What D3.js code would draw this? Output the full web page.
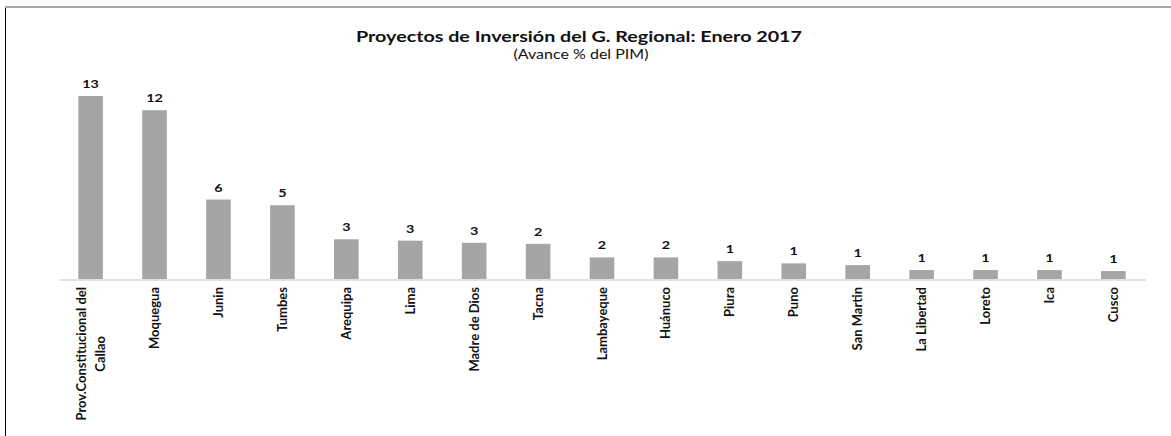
<!DOCTYPE html>
<html>
<head>
<meta charset="utf-8">
<script src="https://cdn.jsdelivr.net/npm/d3@7"></script>
<style>
  html, body { margin: 0; padding: 0; background: #fff; }
  svg { display: block; }
</style>
</head>
<body>
<svg id="chart" width="1171" height="436"></svg>
<script>
// Regional government investment projects, January 2017 (% progress of PIM)
const regions = [
  "Prov.Constitucional del Callao", "Moquegua", "Junin", "Tumbes", "Arequipa",
  "Lima", "Madre de Dios", "Tacna", "Lambayeque", "Huánuco", "Piura", "Puno",
  "San Martin", "La Libertad", "Loreto", "Ica", "Cusco"
];
const avance = [
  12.9, 11.9, 5.6, 5.2, 2.8,
  2.7, 2.55, 2.48, 1.52, 1.52, 1.26, 1.1,
  0.98, 0.63, 0.63, 0.63, 0.56
];
const titleText = "Proyectos de Inversión del G. Regional: Enero 2017";
const subtitleText = "(Avance % del PIM)";

const data = regions.map((r, i) => ({ region: r, value: avance[i] }));

const svg = d3.select("#chart");
const W = 1171, H = 436;
const plot = { left: 58.5, right: 1145.5, top: 96, bottom: 279 };

// Frame lines
svg.append("line").attr("x1", 5).attr("x2", W).attr("y1", 7).attr("y2", 7)
  .attr("stroke", "#a6a6a6").attr("stroke-width", 2);
svg.append("line").attr("x1", 5.5).attr("x2", 5.5).attr("y1", 8).attr("y2", H)
  .attr("stroke", "#000").attr("stroke-width", 1);

const x = d3.scaleBand()
  .domain(regions)
  .range([plot.left, plot.right])
  .paddingInner(0.615)
  .paddingOuter(0.31);

const y = d3.scaleLinear()
  .domain([0, 12.9])
  .range([plot.bottom, plot.top]);

const fmt = d3.format(".0f");
const fontFam = "Lato, 'Open Sans', sans-serif";
const ink = "#111";

// Bars
svg.append("g").selectAll("rect")
  .data(data)
  .join("rect")
  .attr("x", d => x(d.region))
  .attr("y", d => y(d.value))
  .attr("width", x.bandwidth())
  .attr("height", d => y(0) - y(d.value))
  .attr("fill", "#a5a5a5");

// Value labels (slightly widened glyphs)
svg.append("g").selectAll("text")
  .data(data)
  .join("text")
  .attr("transform", d => `translate(${x(d.region) + x.bandwidth() / 2},${y(d.value) - 8}) scale(1.2,1)`)
  .attr("text-anchor", "middle")
  .attr("font-family", fontFam)
  .attr("font-weight", "bold")
  .attr("font-size", 12)
  .attr("fill", ink)
  .text(d => fmt(d.value));

// Category axis
const xAxis = d3.axisBottom(x).tickSize(0).tickPadding(0);
const gx = svg.append("g")
  .attr("transform", `translate(0,${plot.bottom + 0.5})`)
  .call(xAxis);
gx.select(".domain").attr("stroke", "#d9d9d9").attr("stroke-width", 1.5);
gx.selectAll(".tick text").remove();

// Rotated, wrapped category labels
const wrapLines = {
  "Prov.Constitucional del Callao": ["Prov.Constitucional del", "Callao"]
};
const lineH = 19;
const labelSize = 13;
const labels = svg.append("g").selectAll("g")
  .data(regions)
  .join("g")
  .attr("transform", r => `translate(${x(r) + x.bandwidth() / 2},${plot.bottom + 8}) rotate(-90)`);

labels.each(function(r) {
  const lines = wrapLines[r] || [r];
  const g = d3.select(this);
  if (lines.length === 1) {
    g.append("text")
      .attr("x", 0).attr("y", 0)
      .attr("dy", "0.35em")
      .attr("text-anchor", "end")
      .attr("font-family", fontFam)
      .attr("font-weight", "bold")
      .attr("font-size", labelSize)
      .attr("fill", ink)
      .text(r);
  } else {
    // centre the block of lines on the bar; the longest line ends near the axis
    const t = g.append("text")
      .attr("font-family", fontFam)
      .attr("font-weight", "bold")
      .attr("font-size", labelSize)
      .attr("fill", ink)
      .attr("text-anchor", "middle");
    const first = t.append("tspan").attr("x", 0).attr("y", 0).text(lines[0]);
    const len = first.node().getComputedTextLength();
    t.selectAll("tspan").remove();
    lines.forEach((ln, i) => {
      t.append("tspan")
        .attr("x", -len / 2)
        .attr("y", (i - (lines.length - 1) / 2) * lineH)
        .attr("dy", "0.35em")
        .text(ln);
    });
  }
});

// Titles
svg.append("text")
  .attr("x", 579).attr("y", 42)
  .attr("text-anchor", "middle")
  .attr("font-family", fontFam)
  .attr("font-weight", "bold")
  .attr("font-size", 15.5)
  .attr("textLength", 446)
  .attr("lengthAdjust", "spacingAndGlyphs")
  .attr("fill", ink)
  .text(titleText);

svg.append("text")
  .attr("x", 581).attr("y", 59)
  .attr("text-anchor", "middle")
  .attr("font-family", fontFam)
  .attr("font-size", 13)
  .attr("textLength", 135)
  .attr("lengthAdjust", "spacingAndGlyphs")
  .attr("fill", ink)
  .text(subtitleText);
</script>
</body>
</html>
